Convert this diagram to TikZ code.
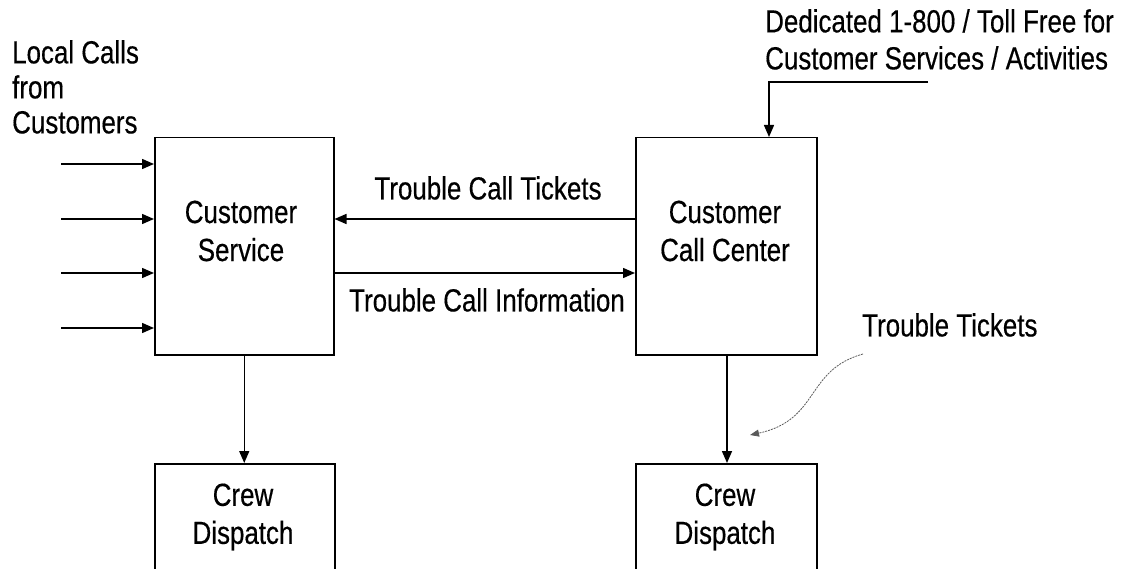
\documentclass[tikz,border=0pt]{standalone}
\usepackage{fontspec}
\setmainfont{Liberation Sans}[FakeStretch=0.81,FakeBold=0.4]
\usetikzlibrary{arrows.meta,calc}
\begin{document}
\begin{tikzpicture}[x=1pt,y=-1pt,
  box/.style={draw,line width=1.5pt,minimum width=180pt,inner sep=0pt},
  txt/.style={align=center,font=\fontsize{32}{38}\selectfont,inner sep=0pt},
  ltxt/.style={align=left,font=\fontsize{32}{35}\selectfont,inner sep=0pt},
  arr/.style={line width=1.5pt,-{Triangle[length=12pt,width=10pt]}},
  wavy/.style={line width=0.8pt,gray!70!black,dash pattern=on 2pt off 1pt,-{Triangle[length=9pt,width=7pt]}}]
\useasboundingbox (0,0) rectangle (1130,569);
\clip (0,0) rectangle (1130,569);
% boxes
\node[box,minimum width=179pt,minimum height=217pt,anchor=north west] (cs) at (154,137) {};
\node[box,minimum width=181pt,minimum height=217pt,anchor=north west] (ccc) at (635,137) {};
\node[box,minimum width=180pt,minimum height=130pt,anchor=north west] (cd1) at (154,463) {};
\node[box,minimum width=181pt,minimum height=130pt,anchor=north west] (cd2) at (635,463) {};
% box texts
\node[txt] (cst) at (241,231) {Customer\\Service};
\node[txt] (ccct) at (725,231) {Customer\\Call Center};
\node[txt] (cd1t) at (243,517) {Crew\\Dispatch};
\node[txt] (cd2t) at (725,517) {Crew\\Dispatch};
% free labels
\node[ltxt,anchor=north west] (local) at (12,40) {Local Calls\\from\\Customers};
\node[ltxt,anchor=north west,font=\fontsize{32}{37}\selectfont] (ded) at (765,9) {Dedicated 1-800 / Toll Free for\\Customer Services / Activities};
\node[txt] (tct) at (488,188) {Trouble Call Tickets};
\node[txt] (tci) at (487,300) {Trouble Call Information};
\node[txt,anchor=west] (tt) at (862,325) {Trouble Tickets};
% input arrows
\foreach \i/\y in {1/164,2/219,3/273,4/328}{
  \coordinate (in\i) at (61,\y);
  \draw[arr] (in\i) -- (in\i -| cs.west);
}
% horizontal arrows
\coordinate (hA) at (0,219);
\coordinate (hB) at (0,273);
\draw[arr] (ccc.west |- hA) -- (cs.east |- hA);
\draw[arr] (cs.east |- hB) -- (ccc.west |- hB);
% vertical arrows
\draw[arr] (cs.south) -- (cs.south |- cd1.north);
\coordinate (vx) at (727,0);
\draw[arr] (vx |- ccc.south) -- (vx |- cd2.north);
% top arrow
\coordinate (dstart) at (928,82);
\coordinate (dx) at (769,0);
\draw[arr] (dstart) -| (dx |- ccc.north);
% curved pointer
\coordinate (tts) at (863,354);
\coordinate (tte) at (750,435);
\draw[wavy] (tts) .. controls (805,370) and (820,420) .. (tte);
\end{tikzpicture}
\end{document}
